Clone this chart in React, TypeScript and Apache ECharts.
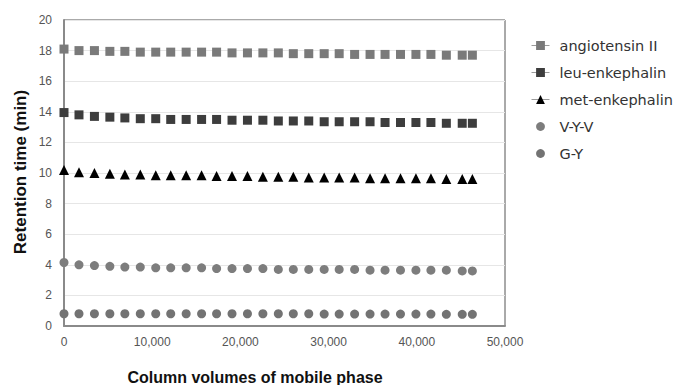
import React, { useEffect, useRef } from "react";
import * as echarts from "echarts";

const columnVolumes = [0, 1700, 3450, 5200, 6900, 8650, 10400, 12100, 13850, 15600, 17300, 19050, 20800, 22550, 24300, 26000, 27750, 29500, 31200, 32950, 34700, 36400, 38150, 39900, 41600, 43350, 45150, 46300];

const angiotensin = [18.1, 18.0, 18.0, 17.95, 17.95, 17.9, 17.9, 17.9, 17.9, 17.9, 17.9, 17.85, 17.85, 17.85, 17.85, 17.8, 17.8, 17.8, 17.8, 17.75, 17.75, 17.75, 17.75, 17.75, 17.75, 17.7, 17.7, 17.7];
const leuEnkephalin = [13.95, 13.8, 13.7, 13.65, 13.6, 13.55, 13.55, 13.5, 13.5, 13.5, 13.5, 13.45, 13.45, 13.45, 13.4, 13.4, 13.4, 13.35, 13.35, 13.35, 13.35, 13.3, 13.3, 13.3, 13.3, 13.25, 13.25, 13.25];
const metEnkephalin = [10.2, 10.05, 10.0, 9.95, 9.9, 9.9, 9.85, 9.85, 9.85, 9.85, 9.8, 9.8, 9.8, 9.75, 9.75, 9.75, 9.7, 9.7, 9.7, 9.7, 9.65, 9.65, 9.65, 9.65, 9.65, 9.6, 9.6, 9.6];
const vyv = [4.15, 4.0, 3.95, 3.9, 3.85, 3.85, 3.8, 3.8, 3.8, 3.8, 3.75, 3.75, 3.75, 3.75, 3.7, 3.7, 3.7, 3.7, 3.7, 3.7, 3.65, 3.65, 3.65, 3.65, 3.65, 3.65, 3.6, 3.6];
const gy = [0.8, 0.8, 0.8, 0.8, 0.8, 0.8, 0.8, 0.8, 0.8, 0.8, 0.8, 0.8, 0.8, 0.8, 0.8, 0.8, 0.8, 0.78, 0.78, 0.78, 0.78, 0.78, 0.78, 0.78, 0.78, 0.76, 0.76, 0.76];

const seriesNames = ["angiotensin II", "leu-enkephalin", "met-enkephalin", "V-Y-V", "G-Y"];
const xTicks = [0, 10000, 20000, 30000, 40000, 50000];
const yTicks = [0, 2, 4, 6, 8, 10, 12, 14, 16, 18, 20];

const FONT = "'Liberation Sans', Arial, sans-serif";
const LEGEND_FONT = "'DejaVu Sans', 'Liberation Sans', sans-serif";

export default function App() {
  const ref = useRef<HTMLDivElement>(null);
  useEffect(() => {
    document.body.style.margin = "0";
    if (!ref.current) return;
    const chart = echarts.init(ref.current, null, { renderer: "svg" });
    const pair = (ys: number[]) => columnVolumes.map((x, i) => [x, ys[i]]);
    const defs = [
      { name: seriesNames[0], data: angiotensin, symbol: "rect", color: "#7a7a7a", size: 9, legendLine: true },
      { name: seriesNames[1], data: leuEnkephalin, symbol: "rect", color: "#3d3d3d", size: 9, legendLine: true },
      { name: seriesNames[2], data: metEnkephalin, symbol: "triangle", color: "#000000", size: 10, legendLine: true },
      { name: seriesNames[3], data: vyv, symbol: "circle", color: "#7d7d7d", size: 9, legendLine: false },
      { name: seriesNames[4], data: gy, symbol: "circle", color: "#737373", size: 9, legendLine: false },
    ];
    chart.setOption({
      animation: false,
      backgroundColor: "#ffffff",
      textStyle: { fontFamily: FONT },
      grid: {
        left: 64,
        right: 177,
        top: 20,
        bottom: 59,
        show: true,
        borderColor: "#555",
        borderWidth: 1,
      },
      xAxis: {
        type: "value",
        min: xTicks[0],
        max: xTicks[xTicks.length - 1],
        interval: 10000,
        axisLine: { show: true, onZero: false, lineStyle: { color: "#8a8a8a", width: 2 } },
        axisTick: { show: false },
        splitLine: { show: false },
        axisLabel: {
          color: "#555",
          fontSize: 12,
          margin: 10,
          fontFamily: FONT,
          formatter: (v: number) => v.toLocaleString("en-US"),
        },
      },
      yAxis: {
        type: "value",
        min: yTicks[0],
        max: yTicks[yTicks.length - 1],
        interval: 2,
        axisLine: { show: true, lineStyle: { color: "#8a8a8a", width: 2 } },
        axisTick: { show: false },
        splitLine: { show: true, lineStyle: { color: "#e6e6e6", width: 1 } },
        axisLabel: { color: "#555", fontSize: 12, margin: 12, fontFamily: FONT },
      },
      legend: {
        orient: "vertical",
        left: 526,
        top: 33,
        itemWidth: 18,
        itemHeight: 11,
        itemGap: 12,
        textStyle: { color: "#333", fontSize: 14.5, fontFamily: LEGEND_FONT, padding: [0, 0, 0, 5] },
        data: defs.map((d) => ({
          name: d.name,
          itemStyle: { color: d.color },
          lineStyle: d.legendLine
            ? { color: "#9a9a9a", width: 1, opacity: 1 }
            : { color: "#ffffff", opacity: 0, width: 0 },
        })),
      },
      graphic: [
        {
          type: "text",
          x: 255,
          y: 377,
          style: {
            text: "Column volumes of mobile phase",
            align: "center",
            verticalAlign: "middle",
            fontSize: 16,
            fontWeight: "bold",
            fontFamily: FONT,
            fill: "#111",
          },
        },
        {
          type: "text",
          x: 20,
          y: 172,
          rotation: Math.PI / 2,
          style: {
            text: "Retention time (min)",
            align: "center",
            verticalAlign: "middle",
            fontSize: 17,
            fontWeight: "bold",
            fontFamily: FONT,
            fill: "#111",
          },
        },
      ],
      series: defs.map((d) => ({
        name: d.name,
        type: "line",
        data: pair(d.data),
        symbol: d.symbol,
        symbolSize: d.size,
        showSymbol: true,
        itemStyle: { color: d.color },
        lineStyle: { opacity: 0, width: 0 },
        z: 3,
      })),
    });
    return () => chart.dispose();
  }, []);
  return <div ref={ref} style={{ width: 682, height: 385 }} />;
}
